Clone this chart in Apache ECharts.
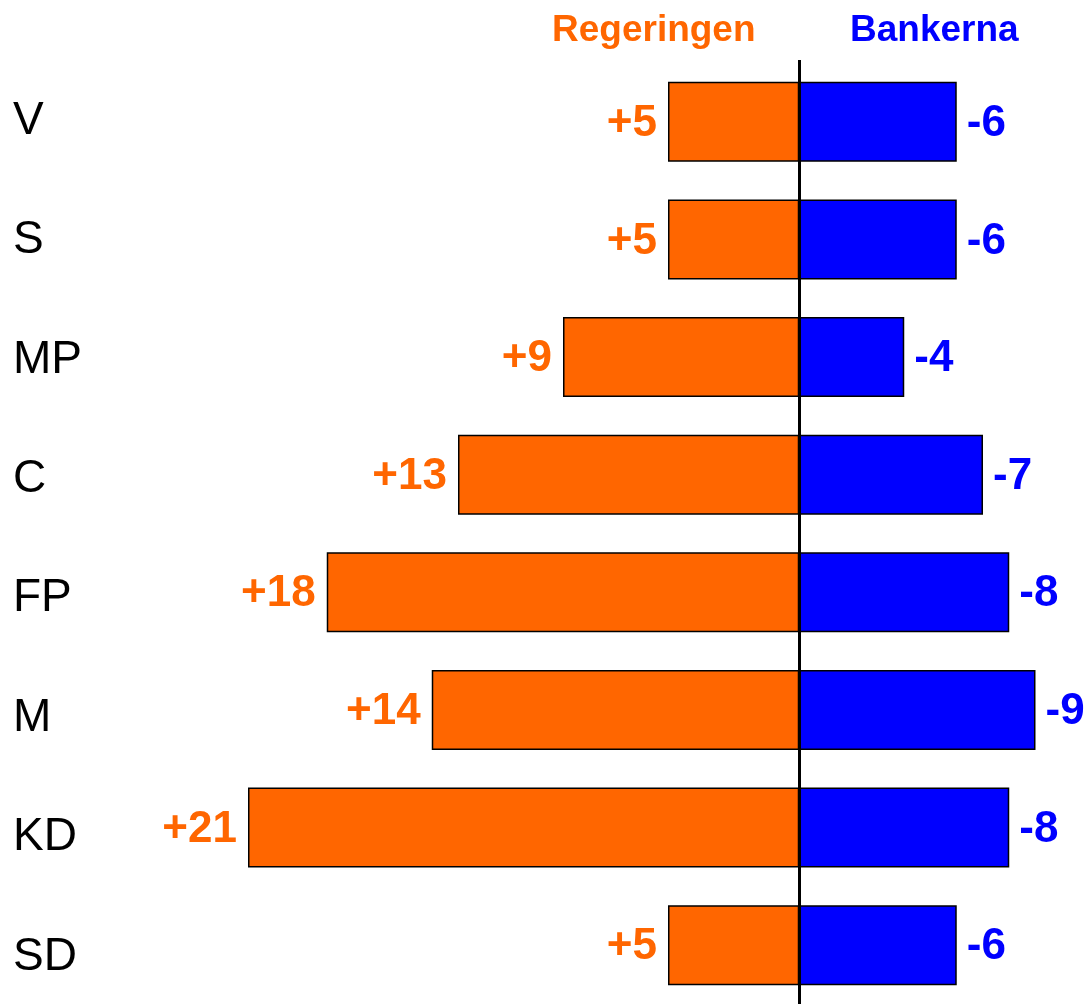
<!DOCTYPE html>
<html><head><meta charset="utf-8">
<script src="https://cdn.jsdelivr.net/npm/echarts@6/dist/echarts.min.js"></script>
<style>html,body{margin:0;padding:0;background:#fff}#c{width:1088px;height:1004px}</style>
</head><body><div id="c"></div>
<script>
const categories = ['V', 'S', 'MP', 'C', 'FP', 'M', 'KD', 'SD'];
const regeringen = [5, 5, 9, 13, 18, 14, 21, 5];
const bankerna = [-6, -6, -4, -7, -8, -9, -8, -6];
const seriesNames = ['Regeringen', 'Bankerna'];
const ORANGE = '#FF6600', BLUE = '#0000FF';
const FONT = 'Liberation Sans, Arial';
const chart = echarts.init(document.getElementById('c'));
chart.setOption({
  animation: false,
  backgroundColor: '#fff',
  grid: [
    { left: 143, right: 0, top: 63, bottom: 0, containLabel: false },
    { left: 143, right: 0, top: 121, height: 836, containLabel: false }
  ],
  xAxis: [
    { type: 'value', min: -25, max: 11, show: false, gridIndex: 0 },
    { type: 'value', min: -25, max: 11, show: false, gridIndex: 1 }
  ],
  yAxis: [
    { type: 'category', data: categories, inverse: true, gridIndex: 0, axisLabel: { show: false },
      axisLine: { show: false }, axisTick: { show: false } },
    { type: 'category', data: categories, inverse: true, gridIndex: 1, boundaryGap: false,
      axisLine: { show: false }, axisTick: { show: false },
      axisLabel: { margin: 130, align: 'left', fontSize: 46, color: '#000', fontFamily: FONT } }
  ],
  graphic: [
    { type: 'text', left: 552, top: 12, style: { text: seriesNames[0], fill: ORANGE, font: 'bold 37px "Liberation Sans", Arial' } },
    { type: 'text', left: 850, top: 12, style: { text: seriesNames[1], fill: BLUE, font: 'bold 37px "Liberation Sans", Arial' } }
  ],
  series: [
    {
      name: seriesNames[0], type: 'bar', barWidth: '68%', barGap: '-100%', xAxisIndex: 0, yAxisIndex: 0,
      data: regeringen.map(v => -v),
      itemStyle: { color: ORANGE, borderColor: '#000', borderWidth: 1.5 },
      label: { show: true, position: 'left', distance: 11, offset: [0, 2], color: ORANGE, fontSize: 44, fontWeight: 'bold', fontFamily: FONT,
        formatter: p => '+' + regeringen[p.dataIndex] },
      markLine: {
        silent: true, symbol: 'none', label: { show: false },
        lineStyle: { color: '#000', width: 3, type: 'solid' },
        data: [[{ xAxis: 0, y: 60 }, { xAxis: 0, y: 1004 }]]
      }
    },
    {
      name: seriesNames[1], type: 'bar', barWidth: '68%', barGap: '-100%', xAxisIndex: 0, yAxisIndex: 0,
      data: bankerna.map(v => -v),
      itemStyle: { color: BLUE, borderColor: '#000', borderWidth: 1.5 },
      label: { show: true, position: 'right', distance: 10, offset: [0, 2], color: BLUE, fontSize: 44, fontWeight: 'bold', fontFamily: FONT,
        formatter: p => String(bankerna[p.dataIndex]) }
    }
  ]
});
</script></body></html>
